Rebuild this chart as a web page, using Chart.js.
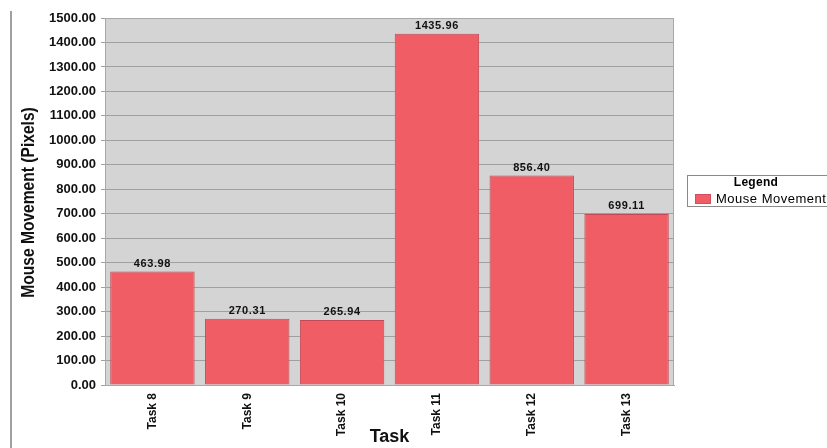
<!DOCTYPE html>
<html>
<head>
<meta charset="utf-8">
<script src="https://cdn.jsdelivr.net/npm/chart.js@4.4.0/dist/chart.umd.min.js"></script>
<style>
  html, body { margin: 0; padding: 0; background: #fff; }
  #wrap { width: 827px; height: 448px; }
</style>
</head>
<body>
<div id="wrap"><canvas id="taskChart" width="827" height="448"></canvas></div>
<script>
var tasks = ["Task 8", "Task 9", "Task 10", "Task 11", "Task 12", "Task 13"];
var mouseMovement = [463.98, 270.31, 265.94, 1435.96, 856.40, 699.11];
var seriesName = "Mouse Movement";
var yTitle = "Mouse Movement (Pixels)";

var plotBg = {
    id: 'plotBg',
    beforeDraw: function (chart) {
        var ctx = chart.ctx, a = chart.chartArea;
        ctx.save();
        ctx.fillStyle = '#d4d4d4';
        ctx.fillRect(a.left, a.top, a.right - a.left, a.bottom - a.top);
        ctx.restore();
    },
    afterDraw: function (chart) {
        var ctx = chart.ctx, a = chart.chartArea;
        ctx.save();
        // plot border
        ctx.strokeStyle = '#a8a8a8';
        ctx.lineWidth = 1;
        ctx.strokeRect(a.left + 0.5, a.top + 0.5, a.right - a.left - 1, a.bottom - a.top);
        // left edge line
        ctx.strokeStyle = '#a0a0a0';
        ctx.lineWidth = 2;
        ctx.beginPath();
        ctx.moveTo(11, 11);
        ctx.lineTo(11, 448);
        ctx.stroke();
        // y axis title, condensed
        ctx.save();
        ctx.translate(29, (a.top + a.bottom) / 2 + 1);
        ctx.rotate(-Math.PI / 2);
        ctx.scale(0.82, 1);
        ctx.fillStyle = '#111';
        ctx.font = 'bold 19px "Liberation Sans", Arial, sans-serif';
        ctx.textAlign = 'center';
        ctx.textBaseline = 'middle';
        ctx.fillText(yTitle, 0, 0);
        ctx.restore();
        // value labels
        var meta = chart.getDatasetMeta(0);
        ctx.fillStyle = '#111';
        ctx.font = 'bold 11px "Liberation Sans", Arial, sans-serif';
        ctx.letterSpacing = '0.6px';
        ctx.textAlign = 'center';
        ctx.textBaseline = 'bottom';
        meta.data.forEach(function (bar, i) {
            ctx.fillText(mouseMovement[i].toFixed(2), bar.x, bar.y - 2);
        });
        // legend box
        ctx.strokeStyle = '#8a8a8a';
        ctx.lineWidth = 1;
        ctx.strokeRect(687.5, 175.5, 145, 31);
        ctx.fillStyle = '#000';
        ctx.font = 'bold 12px "Liberation Sans", Arial, sans-serif';
        ctx.letterSpacing = '0.3px';
        ctx.textBaseline = 'middle';
        ctx.fillText('Legend', 756, 183);
        ctx.fillStyle = '#f05d64';
        ctx.fillRect(695, 194, 16, 10);
        ctx.strokeStyle = '#d05060';
        ctx.strokeRect(695.5, 194.5, 15, 9);
        ctx.fillStyle = '#000';
        ctx.font = '13px "Liberation Sans", Arial, sans-serif';
        ctx.letterSpacing = '0.5px';
        ctx.textAlign = 'left';
        ctx.fillText(seriesName, 716, 199.5);
        ctx.restore();
    }
};

new Chart(document.getElementById("taskChart"), {
    type: 'bar',
    data: {
        labels: tasks,
        datasets: [{
            label: seriesName,
            data: mouseMovement,
            backgroundColor: '#f05d64',
            borderColor: '#c04a55',
            borderWidth: 1,
            barPercentage: 0.89,
            categoryPercentage: 1.0
        }]
    },
    options: {
        responsive: false,
        animation: false,
        layout: { padding: { left: 12, right: 153, top: 18, bottom: 0 } },
        plugins: {
            legend: { display: false },
            tooltip: { enabled: false }
        },
        scales: {
            x: {
                grid: { display: false, drawTicks: true, tickLength: 5, color: '#a0a0a0' },
                border: { color: '#a8a8a8' },
                ticks: {
                    color: '#111',
                    maxRotation: 90,
                    minRotation: 90,
                    font: { family: '"Liberation Sans", Arial', size: 12, weight: 'bold' }
                },
                title: {
                    display: true,
                    text: 'Task',
                    color: '#111',
                    padding: { top: 0, bottom: 0 },
                    font: { family: '"Liberation Sans", Arial', size: 18, weight: 'bold' }
                },
                afterFit: function (scale) { scale.height = 63; }
            },
            y: {
                min: 0,
                max: 1500,
                ticks: {
                    stepSize: 100,
                    color: '#111',
                    padding: 5,
                    font: { family: '"Liberation Sans", Arial', size: 13, weight: 'bold' },
                    callback: function (v) { return Number(v).toFixed(2); }
                },
                grid: { color: '#a0a0a0', lineWidth: 1, tickLength: 4 },
                border: { color: '#a8a8a8' },
                afterFit: function (scale) { scale.width = 93; }
            }
        }
    },
    plugins: [plotBg]
});
</script>
</body>
</html>
